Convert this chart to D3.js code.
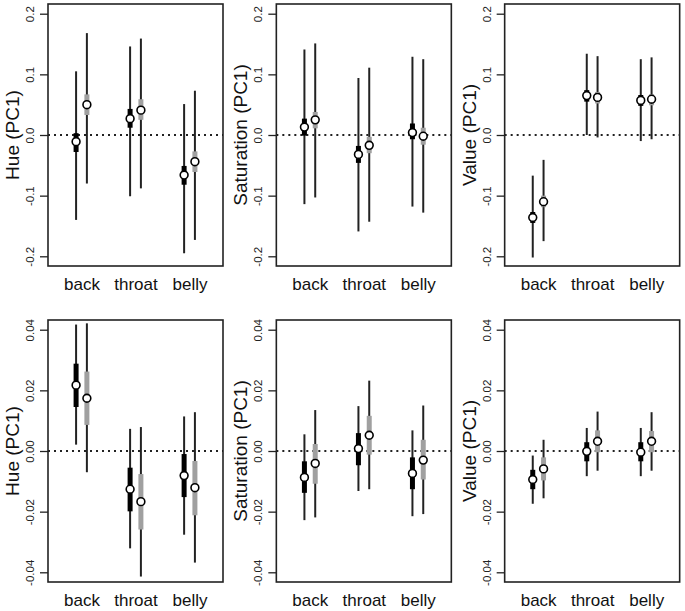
<!DOCTYPE html>
<html>
<head>
<meta charset="utf-8">
<script src="https://cdn.jsdelivr.net/npm/d3@7"></script>
<style>
  body { margin: 0; background: #fff; }
  svg { display: block; font-family: "Liberation Sans", Arial, sans-serif; }
</style>
</head>
<body>
<div id="vis"></div>
<script>
// categories along x
var categories = ['back', 'throat', 'belly'];

// tick labels for the two rows
var topTicks = [-0.2, -0.1, 0, 0.1, 0.2];
var topTickLabels = ['-0.2', '-0.1', '0.0', '0.1', '0.2'];
var bottomTicks = [-0.04, -0.02, 0, 0.02, 0.04];
var bottomTickLabels = ['-0.04', '-0.02', '0.00', '0.02', '0.04'];

// each row: [estimate, outerLow, outerHigh, innerLow, innerHigh]
// top row, black series / grey series
var hueTopBlack = [[-0.011, -0.140, 0.105, -0.028, 0.003], [0.027, -0.101, 0.146, 0.012, 0.043], [-0.066, -0.195, 0.051, -0.082, -0.051]];
var hueTopGrey = [[0.050, -0.080, 0.168, 0.033, 0.067], [0.041, -0.088, 0.159, 0.025, 0.059], [-0.044, -0.173, 0.073, -0.061, -0.027]];
var satTopBlack = [[0.013, -0.114, 0.141, -0.001, 0.027], [-0.032, -0.159, 0.094, -0.046, -0.018], [0.004, -0.118, 0.129, -0.007, 0.019]];
var satTopGrey = [[0.025, -0.103, 0.151, 0.011, 0.038], [-0.017, -0.143, 0.111, -0.030, -0.003], [-0.002, -0.128, 0.125, -0.016, 0.012]];
var valTopBlack = [[-0.136, -0.202, -0.067, -0.145, -0.127], [0.065, 0.000, 0.134, 0.055, 0.074], [0.057, -0.010, 0.125, 0.048, 0.066]];
var valTopGrey = [[-0.110, -0.175, -0.041, -0.119, -0.100], [0.062, -0.004, 0.130, 0.052, 0.071], [0.059, -0.007, 0.128, 0.049, 0.067]];

// bottom row
var hueBotBlack = [[0.0217, 0.0021, 0.0417, 0.0145, 0.0288], [-0.0126, -0.0321, 0.0073, -0.0199, -0.0055], [-0.0081, -0.0276, 0.0114, -0.0152, -0.0010]];
var hueBotGrey = [[0.0174, -0.0070, 0.0421, 0.0086, 0.0262], [-0.0167, -0.0414, 0.0079, -0.0259, -0.0076], [-0.0121, -0.0368, 0.0128, -0.0212, -0.0033]];
var satBotBlack = [[-0.0087, -0.0228, 0.0055, -0.0138, -0.0034], [0.0008, -0.0132, 0.0148, -0.0047, 0.0059], [-0.0074, -0.0215, 0.0068, -0.0126, -0.0021]];
var satBotGrey = [[-0.0041, -0.0219, 0.0135, -0.0108, 0.0023], [0.0052, -0.0126, 0.0232, -0.0012, 0.0116], [-0.0030, -0.0208, 0.0150, -0.0094, 0.0037]];
var valBotBlack = [[-0.0094, -0.0174, -0.0015, -0.0126, -0.0062], [-0.0001, -0.0083, 0.0076, -0.0034, 0.0029], [-0.0004, -0.0083, 0.0076, -0.0034, 0.0029]];
var valBotGrey = [[-0.0059, -0.0156, 0.0037, -0.0097, -0.0021], [0.0032, -0.0065, 0.0130, -0.0004, 0.0068], [0.0032, -0.0065, 0.0128, -0.0004, 0.0066]];

var width = 685;
var height = 611;
var colWidth = width / 3;
var boxLeft = 48;      // box offset inside each column
var boxWidth = 175;
var boxHeight = 262;
var rowTops = [4, 320];

var svg = d3.select('#vis').append('svg')
  .attr('width', width)
  .attr('height', height);

var panels = [
  {col: 0, row: 0, title: 'Hue (PC1)', black: hueTopBlack, grey: hueTopGrey},
  {col: 1, row: 0, title: 'Saturation (PC1)', black: satTopBlack, grey: satTopGrey},
  {col: 2, row: 0, title: 'Value (PC1)', black: valTopBlack, grey: valTopGrey},
  {col: 0, row: 1, title: 'Hue (PC1)', black: hueBotBlack, grey: hueBotGrey},
  {col: 1, row: 1, title: 'Saturation (PC1)', black: satBotBlack, grey: satBotGrey},
  {col: 2, row: 1, title: 'Value (PC1)', black: valBotBlack, grey: valBotGrey}
];

panels.forEach(function(p) {
  var ticks = p.row === 0 ? topTicks : bottomTicks;
  var labels = p.row === 0 ? topTickLabels : bottomTickLabels;
  var lim = ticks[ticks.length - 1] * 1.08;

  var g = svg.append('g')
    .attr('transform', 'translate(' + (p.col * colWidth + boxLeft) + ',' + rowTops[p.row] + ')');

  // R style: xlim 0.5..3.5 extended by 4%
  var x = d3.scaleLinear().domain([0.38, 3.62]).range([0, boxWidth]);
  var y = d3.scaleLinear().domain([-lim, lim]).range([boxHeight, 0]);

  // y axis
  var yAxis = d3.axisLeft(y)
    .tickValues(ticks)
    .tickSize(8)
    .tickPadding(0)
    .tickFormat(function(d, i) { return labels[i]; });
  var ya = g.append('g').attr('transform', 'translate(0,0)').call(yAxis);
  ya.select('.domain').remove();
  ya.selectAll('.tick line').attr('stroke', '#222').attr('stroke-width', 1.3);
  ya.selectAll('.tick text')
    .attr('x', null).attr('dy', null)
    .attr('transform', 'translate(-14,0) rotate(-90)')
    .attr('text-anchor', 'middle')
    .attr('fill', '#222')
    .style('font-size', '11.5px');

  // x axis labels only
  var xAxis = d3.axisBottom(x)
    .tickValues([1, 2, 3])
    .tickSize(0)
    .tickPadding(0)
    .tickFormat(function(d, i) { return categories[i]; });
  var xa = g.append('g').attr('transform', 'translate(0,' + boxHeight + ')').call(xAxis);
  xa.select('.domain').remove();
  xa.selectAll('.tick text')
    .attr('y', 24).attr('dy', null)
    .attr('fill', '#111')
    .style('font-size', '17px');

  // y title
  g.append('text')
    .attr('transform', 'translate(-29,' + (boxHeight / 2) + ') rotate(-90)')
    .attr('text-anchor', 'middle')
    .attr('fill', '#111')
    .style('font-size', '19px')
    .text(p.title);

  // zero reference line
  g.append('line')
    .attr('x1', 0).attr('x2', boxWidth)
    .attr('y1', y(0)).attr('y2', y(0))
    .attr('stroke', '#222')
    .attr('stroke-width', 2)
    .attr('stroke-dasharray', '2,4');

  var series = [
    {data: p.black, offset: -0.1, fill: '#000'},
    {data: p.grey, offset: 0.1, fill: '#a0a0a0'}
  ];

  series.forEach(function(s) {
    var grp = g.append('g');
    // outer interval
    grp.selectAll('.whisker').data(s.data).enter().append('line')
      .attr('class', 'whisker')
      .attr('x1', function(d, i) { return x(i + 1 + s.offset); })
      .attr('x2', function(d, i) { return x(i + 1 + s.offset); })
      .attr('y1', function(d) { return y(d[1]); })
      .attr('y2', function(d) { return y(d[2]); })
      .attr('stroke', '#222')
      .attr('stroke-width', 2);
    // inner interval
    grp.selectAll('.inner').data(s.data).enter().append('line')
      .attr('class', 'inner')
      .attr('x1', function(d, i) { return x(i + 1 + s.offset); })
      .attr('x2', function(d, i) { return x(i + 1 + s.offset); })
      .attr('y1', function(d) { return y(d[3]); })
      .attr('y2', function(d) { return y(d[4]); })
      .attr('stroke', s.fill)
      .attr('stroke-width', 5);
  });

  series.forEach(function(s) {
    g.selectAll(null).data(s.data).enter().append('circle')
      .attr('cx', function(d, i) { return x(i + 1 + s.offset); })
      .attr('cy', function(d) { return y(d[0]); })
      .attr('r', 3.9)
      .attr('fill', '#fff')
      .attr('stroke', '#000')
      .attr('stroke-width', 1.6);
  });

  // box
  g.append('rect')
    .attr('x', 0).attr('y', 0)
    .attr('width', boxWidth).attr('height', boxHeight)
    .attr('fill', 'none')
    .attr('stroke', '#222')
    .attr('stroke-width', 1.6);
});
</script>
</body>
</html>
